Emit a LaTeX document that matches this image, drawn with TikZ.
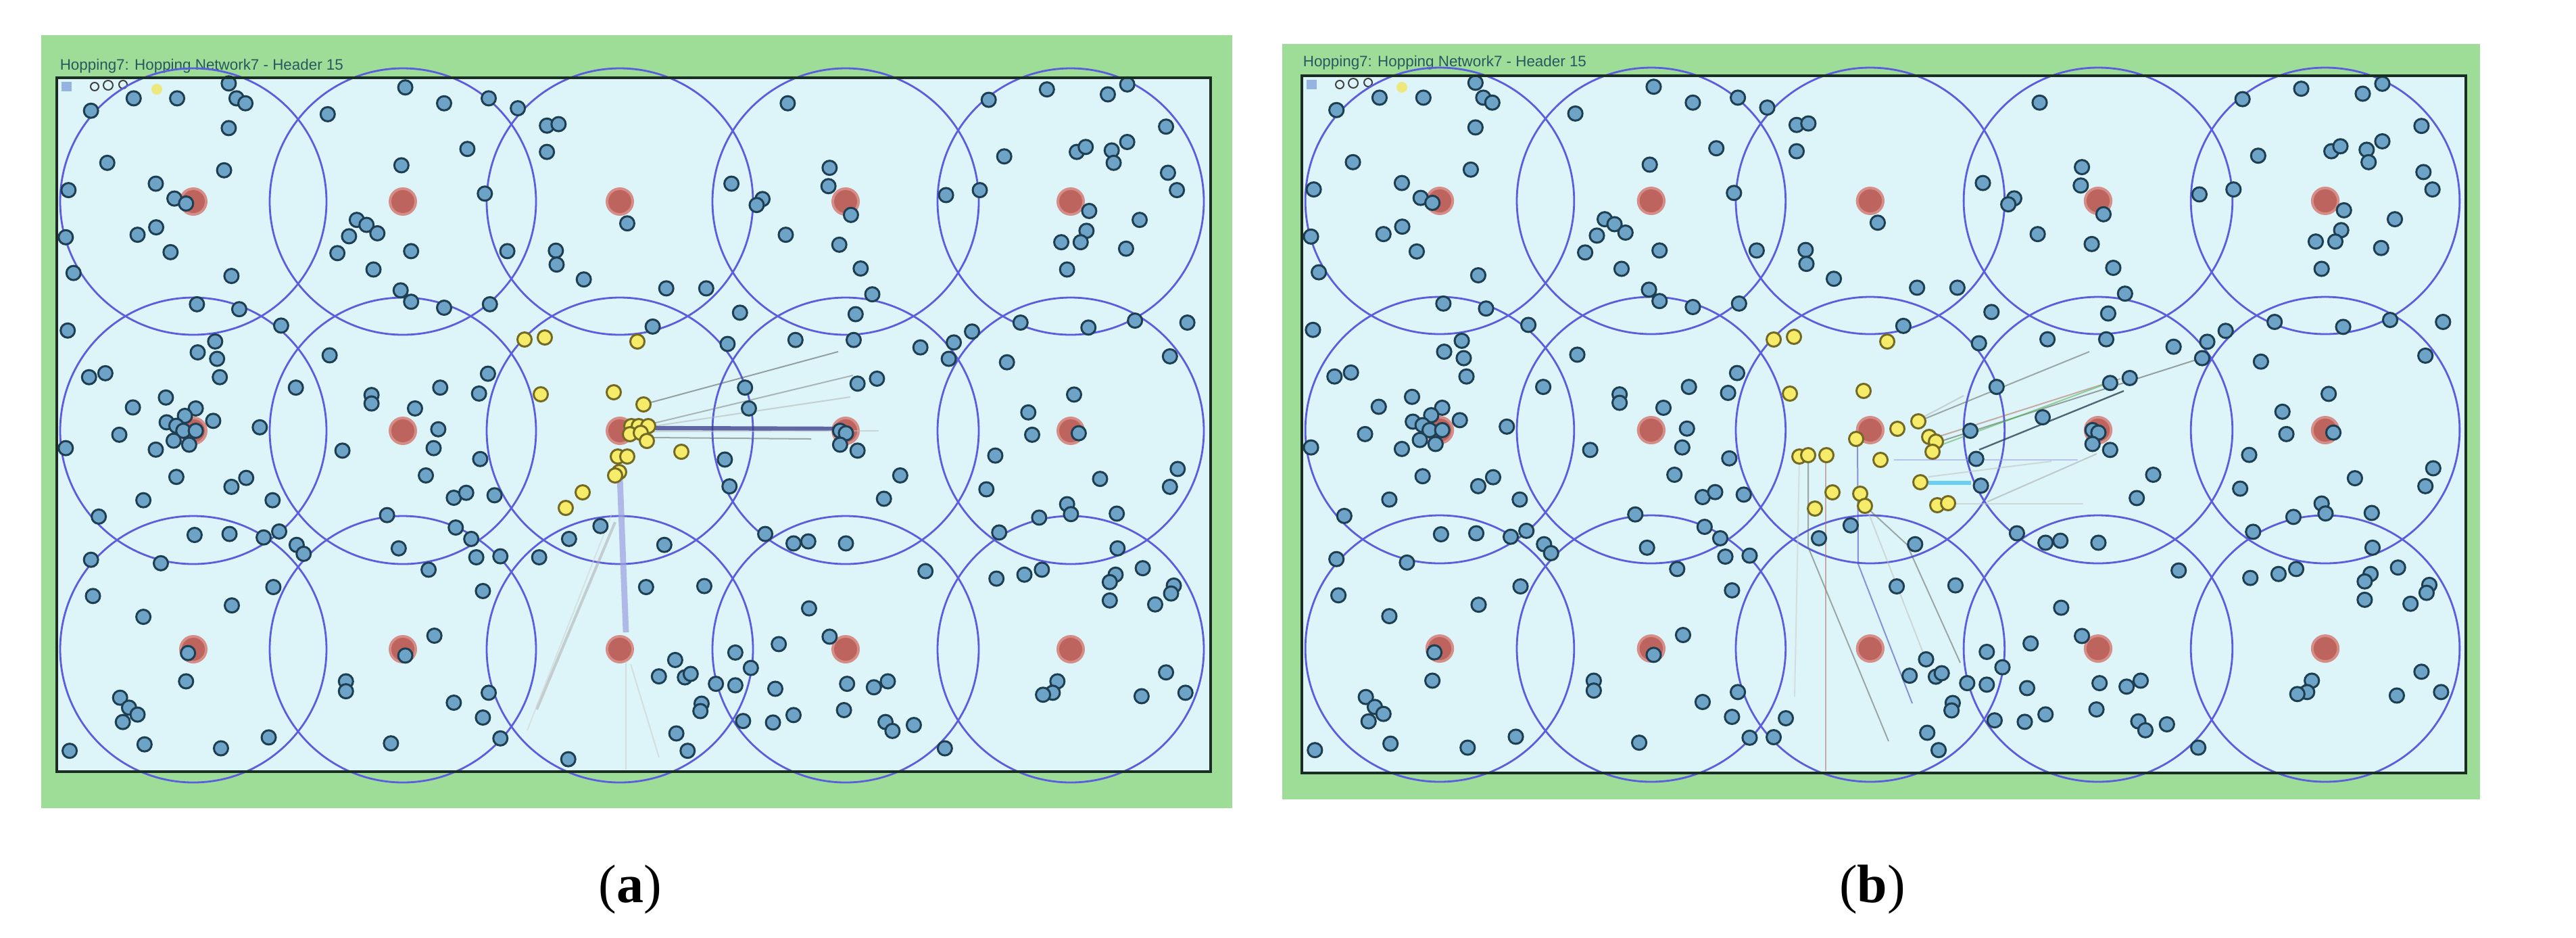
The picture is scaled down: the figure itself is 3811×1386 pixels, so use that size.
\documentclass[tikz,border=0pt]{standalone}
\usepackage{fontspec}
\setmainfont{Liberation Serif}
\newfontfamily\uifont{Liberation Sans}
\definecolor{panelgreen}{RGB}{158,221,152}
\definecolor{fieldbg}{RGB}{221,245,248}
\definecolor{ringblue}{RGB}{92,92,222}
\definecolor{nodefill}{RGB}{108,163,198}
\definecolor{nodeedge}{RGB}{30,62,82}
\definecolor{yelfill}{RGB}{246,236,105}
\definecolor{yeledge}{RGB}{115,105,35}
\definecolor{sinkfill}{RGB}{190,100,95}
\definecolor{sinkedge}{RGB}{214,140,135}
\definecolor{titlecol}{RGB}{40,88,95}
\definecolor{framecol}{RGB}{25,45,35}
\definecolor{linkred}{RGB}{175,110,100}
\definecolor{darkslate}{RGB}{45,65,85}
\definecolor{thickblue}{RGB}{55,55,135}
\definecolor{paleband}{RGB}{155,160,225}
\definecolor{iconblue}{RGB}{150,180,225}
\newcommand\zsixlist{485/100, 940/108, 130/155, 240/130, 352/130, 505/130, 528/140, 1040/140, 1155/130, 1230/150, 740/162, 485/190, 1305/185, 1335/182, 1100/232, 1305/238, 172/260, 473/275, 930/265, 297/302, 72/315, 345/332, 375/342, 1145/322, 1512/382, 815/375, 840/385, 868/402, 795/408, 298/390, 250/405, 65/410, 335/440, 765/442, 955/438, 1203/438, 1328/437, 1330/465, 858/475, 85/482, 492/488, 1400/495, 928/517, 955/540, 403/545, 512/555, 1040/552, 1158/545, 70/598, 620/588, 450/620, 405/642, 455/655, 745/648, 462/692, 125/692, 167/684, 658/713, 1030/713, 1153/685, 1130/725, 323/733, 853/728, 853/745, 238/753, 400/755, 965/755, 372/770, 325/783, 350/790, 445/780, 368/800, 400/800, 343/820, 383/828, 565/793, 203/808, 1025/797, 65/835, 297/838, 778/840, 1013/835, 1133/857, 350/893, 530/895, 492/913, 993/890, 265/940, 598/940, 1065/935, 1097/925, 1170/930, 150/973, 893/970, 1070/995, 397/1010, 487/1008, 575/1015, 615/1003, 660/1030, 678/1048, 1110/1018, 1123/1055, 923/1037, 1185/1053, 1362/1018, 1443/992, 130/1060, 310/1067, 1000/1080, 600/1115, 135/1133, 493/1152, 1140/1123, 265/1175, 1015/1213, 380/1248, 940/1253, 375/1305, 787/1305, 787/1325, 205/1338, 228/1358, 250/1372, 212/1387, 1155/1328, 1065/1348, 1140/1378, 1185/1420, 588/1418, 268/1432, 75/1445, 465/1440, 903/1430}
\newcommand\zsevenlist{410/140, 928/133, 1078/112, 1235/122, 1285/102, 1385/187, 968/247, 1155/238, 1178/228, 1245/235, 1285/218, 1250/260, 1390/280, 1413/315, 265/302, 518/270, 515/307, 345/333, 330/345, 573/365, 818/325, 905/315, 1187/357, 1317/375, 1180/397, 1115/420, 1165/420, 1282/433, 1130/475, 405/405, 543/425, 598/473, 97/513, 200/513, 628/525, 287/562, 585/565, 1010/582, 1185/592, 1305/578, 1440/582, 62/590, 255/625, 430/617, 580/617, 752/632, 838/622, 885/600, 825/655, 1395/650, 975/662, 590/705, 640/695, 300/713, 1148/727, 1030/763, 1040/808, 545/800, 560/805, 545/828, 590/840, 1160/805, 248/858, 945/850, 700/890, 1415/877, 1215/897, 1395/913, 260/912, 922/918, 658/937, 1130/948, 1140/968, 1058/975, 1258/967, 955/1005, 352/1008, 425/1027, 463/1023, 560/1027, 92/1030, 1260/1037, 765/1083, 948/1098, 1020/1090, 1065/1080, 1325/1077, 1255/1090, 1240/1105, 1240/1142, 1405/1112, 1398/1128, 1357/1150, 45/1115, 195/1113, 465/1158, 518/1215, 387/1230, 275/1247, 120/1262, 78/1295, 145/1297, 160/1290, 315/1278, 225/1310, 275/1313, 378/1320, 563/1310, 632/1317, 668/1305, 188/1350, 185/1365, 555/1363, 1385/1287, 1105/1305, 1093/1328, 1068/1332, 1322/1335, 1435/1328, 295/1385, 372/1388, 425/1373, 662/1387, 680/1405, 735/1393, 123/1410, 152/1445, 815/1440}
\newcommand\fieldrings{%
  \foreach \cx in {286,596,917,1251,1584}{%
    \foreach \cy in {298,637,960}{%
      \draw[ring] (\cx,\cy) circle (197);
      \fill[sinkedge] (\cx,\cy) circle (21);
      \fill[sinkfill] (\cx,\cy) circle (17);
    }}}
\newcommand\fielddots{%
  \foreach \u/\v in \zsixlist {\draw[bnode] ({60+\u/1.742},{50+\v/1.363}) circle (10.5);}
  \foreach \u/\v in \zsevenlist {\draw[bnode] ({930+\u/1.742},{50+\v/1.363}) circle (10.5);}}
\begin{document}
\begin{tikzpicture}[x=0.25pt,y=-0.25pt,
  bnode/.style={fill=nodefill, draw=nodeedge, line width=0.75pt},
  ynode/.style={fill=yelfill, draw=yeledge, line width=0.75pt},
  ring/.style={draw=ringblue, line width=0.7pt},
  link/.style={line width=0.5pt, opacity=0.55},
  framebox/.style={draw=framecol, line width=1.1pt},
  titletext/.style={font=\uifont\fontsize{5.6}{6}\selectfont, text=titlecol, inner sep=0pt, anchor=base west},
  captext/.style={font=\fontsize{20}{24}\selectfont, inner sep=0pt}]
\useasboundingbox (0,0) rectangle (3811,1386);
\fill[white] (0,0) rectangle (3811,1386);
% ---------------- panel (a)
\fill[panelgreen] (61,52) rectangle (1823,1195);
\fill[fieldbg] (84,115) rectangle (1791,1141);
\node[titletext] (titlea) at (88,103) {Hopping7: Hopping Network7 - Header 15};
\fill[iconblue] (91,121) rectangle (106,135);
\draw[gray!50!black, line width=0.5pt] (140,128) circle (6) (160,126) circle (7) (182,125) circle (6);
\fill[yellow!80!orange, opacity=0.5] (232,132) circle (8);
\fieldrings
\draw[link, draw=gray!70!black] (952,598) -- (1240,520);
\draw[link, draw=gray] (958,628) -- (1262,555);
\draw[link, draw=gray!60] (968,630) -- (1258,587);
\draw[line width=1.6pt, draw=thickblue, opacity=0.75] (965,633) -- (1240,634);
\draw[link, draw=gray!50] (965,638) -- (1300,637);
\draw[link, draw=gray!80!black] (965,647) -- (1200,649);
\draw[line width=2.2pt, draw=paleband, opacity=0.7] (917,705) -- (926,935);
\draw[line width=1pt, draw=gray!60, opacity=0.6] (910,772) -- (794,1049);
\draw[link, draw=gray!35] (905,760) -- (780,1080);
\draw[link, draw=gray!40] (926,978) -- (926,1138);
\draw[link, draw=gray!40] (933,982) -- (975,1120);
\fielddots
\foreach \u/\v in {1285/1055, 1360/1462} {\draw[bnode] ({60+\u/1.742},{50+\v/1.363}) circle (10.5);}
\draw[bnode] ({930+310/1.742},{50+755/1.363}) circle (10.5);
\foreach \p/\q in {776/502, 806/499, 943/505, 800/583, 908/580, 952/598, 934/630, 945/630, 959/630, 932/642, 948/640, 957/652, 1008/668, 914/675, 928/675, 916/698, 910/703, 862/728, 837/751}
  {\draw[ynode] (\p,\q) circle (10.5);}
\draw[framebox] (84,115) rectangle (1791,1141);
% ---------------- panel (b)
\fill[panelgreen] (1897,65) rectangle (3669,1182);
\fill[fieldbg] (1926,112) rectangle (3648,1143);
\node[titletext] (titleb) at (1927,98) {Hopping7: Hopping Network7 - Header 15};
\fill[iconblue] (1933,118) rectangle (1948,132);
\draw[gray!50!black, line width=0.5pt] (1982,125) circle (6) (2002,123) circle (7) (2024,122) circle (6);
\fill[yellow!80!orange, opacity=0.5] (2074,129) circle (8);
\begin{scope}[shift={(1841.3,-1)}, xscale=1.0093]
\fieldrings
\end{scope}
\draw[link, draw=gray!80!black] (2838,623) -- (3091,520);
\draw[link, draw=gray!60] (2843,618) -- (2905,585);
\draw[link, draw=linkred] (2857,649) -- (3137,560);
\draw[link, draw=gray!70!black] (2863,655) -- (3249,532);
\draw[link, draw=gray!60!green] (2866,660) -- (3120,566);
\draw[line width=0.6pt, draw=darkslate, opacity=0.8] (2928,665) -- (3142,578);
\draw[link, draw=blue!40] (2802,680) -- (3074,680);
\draw[link, draw=gray!50] (2853,705) -- (3035,682);
\draw[line width=1.5pt, draw=cyan!70, opacity=0.8] (2853,714) -- (2916,714);
\draw[link, draw=gray!50] (2893,745) -- (3082,745);
\draw[link, draw=gray!70] (2940,742) -- (3102,671);
\draw[link, draw=gray!40] (2662,678) -- (2655,1030);
\draw[link, draw=gray!80!black] (2675,676) -- (2675,809) -- (2794,1096);
\draw[link, draw=linkred] (2701,674) -- (2701,1140);
\draw[link, draw=blue!50!gray] (2748,653) -- (2749,834) -- (2829,1040);
\draw[link, draw=gray!80!black] (2759,748) -- (2821,805) -- (2900,980);
\draw[link, draw=gray!50] (2765,760) -- (2845,965);
\begin{scope}[shift={(1841.3,-1)}, xscale=1.0093]
\fielddots
\end{scope}
\foreach \p/\q in {2624/1090, 2642/1062, 2915/637, 3022/617}
  {\draw[bnode] (\p,\q) circle (10.5);}
\foreach \p/\q in {2624/502, 2654/498, 2792/505, 2648/582, 2757/578, 2807/634, 2838/623, 2746/649, 2854/646, 2864/653, 2859/668, 2662/675, 2675/673, 2702/673, 2782/680, 2841/713, 2711/728, 2752/730, 2759/748, 2685/752, 2866/747, 2882/744}
  {\draw[ynode] (\p,\q) circle (10.5);}
\draw[framebox] (1926,112) rectangle (3648,1143);
% ---------------- captions
\node[captext] (capa) at (932,1315) {(\textbf{a})};
\node[captext] (capb) at (2770,1315) {(\textbf{b})};
\end{tikzpicture}
\end{document}
